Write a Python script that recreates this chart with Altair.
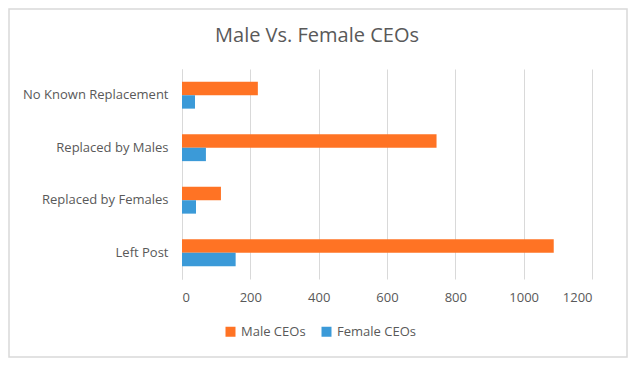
import altair as alt
import pandas as pd

categories = ["No Known Replacement", "Replaced by Males", "Replaced by Females", "Left Post"]
male_ceos = [222, 745, 114, 1088]
female_ceos = [38, 70, 41, 157]
series = ["Male CEOs", "Female CEOs"]
colors = ["#FF7324", "#3B9AD8"]
x_ticks = [0, 200, 400, 600, 800, 1000, 1200]

rows = []
for c, m, f in zip(categories, male_ceos, female_ceos):
    rows.append({"cat": c, "series": series[0], "value": m})
    rows.append({"cat": c, "series": series[1], "value": f})
df = pd.DataFrame(rows)

FONT = "Open Sans"
GREY = "#595959"

bars = alt.Chart(df).mark_bar().encode(
    y=alt.Y("cat:N", sort=categories, title=None,
            scale=alt.Scale(paddingInner=0.49, paddingOuter=0.245),
            axis=alt.Axis(labelFont=FONT, labelFontSize=13, labelColor=GREY,
                          labelPadding=14, ticks=False, domain=True,
                          domainColor="#d9d9d9", grid=False)),
    yOffset=alt.YOffset("series:N", sort=series),
    x=alt.X("value:Q", title=None,
            scale=alt.Scale(domain=[0, 1200], nice=False),
            axis=alt.Axis(values=x_ticks, format="d", labelFont=FONT, labelFontSize=13,
                          labelColor=GREY, labelPadding=12, ticks=False,
                          domain=False, grid=True, gridColor="#d9d9d9")),
    color=alt.Color("series:N", sort=series,
                    scale=alt.Scale(domain=series, range=colors),
                    legend=alt.Legend(title=None, orient="none", direction="horizontal",
                                      legendX=42, legendY=256, symbolType="square",
                                      symbolSize=100, symbolStrokeWidth=0,
                                      labelFont=FONT, labelFontSize=13, labelColor=GREY,
                                      labelOffset=4, columnPadding=14, padding=0)),
)

title = alt.Chart(alt.Data(values=[{"t": "Male Vs. Female CEOs"}])).mark_text(
    font=FONT, fontSize=20, color=GREY, baseline="middle", align="center"
).encode(x=alt.value(135), y=alt.value(-33), text="t:N")

border = alt.Chart(alt.Data(values=[{}])).mark_rect(
    fill=None, stroke="#d9d9d9", strokeWidth=1.5
).encode(x=alt.value(-173), x2=alt.value(445), y=alt.value(-60), y2=alt.value(288))

chart = alt.layer(border, bars, title).properties(
    width=410, height=210,
    autosize=alt.AutoSizeParams(type="none"),
    padding={"left": 174, "top": 61, "right": 40, "bottom": 84},
).configure_view(stroke=None)

chart.save("out.html", embed_options={"renderer": "svg", "actions": False})
